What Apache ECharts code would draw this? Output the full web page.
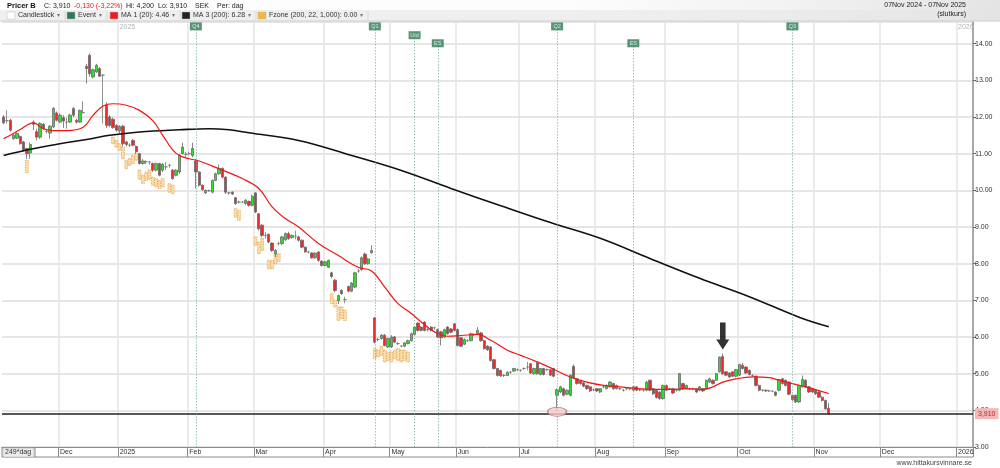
<!DOCTYPE html>
<html>
<head>
<meta charset="utf-8">
<script src="https://cdn.jsdelivr.net/npm/echarts@6/dist/echarts.min.js"></script>
<style>
  html, body { margin: 0; padding: 0; background: #fff; }
  #chart { width: 1000px; height: 468px; }
</style>
</head>
<body>
<div id="chart"></div>
<script>
// handelsdagar: vardagar, helgdagar stängda fram till sista datadagen
const firstDay = '2024-11-07';
const lastDataDay = '2025-11-07';
const lastAxisDay = '2026-01-07';
const holidays = ['2024-12-24', '2024-12-25', '2024-12-26', '2024-12-31', '2025-01-01', '2025-01-06',
    '2025-04-18', '2025-04-21', '2025-05-01', '2025-05-29', '2025-06-06', '2025-06-20'];
const monthNames = ['Jan', 'Feb', 'Mar', 'Apr', 'May', 'Jun', 'Jul', 'Aug', 'Sep', 'Oct', 'Nov', 'Dec'];

// [open, close, low, high] per dag
const candles = [
    [12.0, 11.84, 11.8, 12.05], [11.9, 11.9, 11.82, 12.18], [11.91, 11.64, 11.6, 11.95], [11.41, 11.5, 11.38, 11.55],
    [11.42, 11.55, 11.4, 11.58], [11.47, 11.27, 11.25, 11.5], [11.32, 11.09, 11.05, 11.35], [11.14, 11.0, 10.86, 11.16],
    [11.02, 11.25, 10.86, 11.3], [11.86, 11.8, 11.64, 11.91], [11.6, 11.45, 11.36, 11.68], [11.45, 11.82, 11.4, 11.86],
    [11.8, 11.68, 11.65, 11.84], [11.6, 11.6, 11.55, 11.65], [11.56, 11.75, 11.41, 11.78], [11.73, 12.23, 11.7, 12.27],
    [12.11, 11.91, 11.88, 12.15], [11.86, 12.05, 11.84, 12.1], [11.98, 11.89, 11.7, 12.05], [11.86, 11.86, 11.68, 11.98],
    [11.86, 12.05, 11.84, 12.09], [12.23, 12.05, 12.0, 12.27], [11.91, 11.86, 11.82, 11.95], [11.86, 12.18, 11.84, 12.2],
    [12.12, 12.12, 12.09, 12.43], [13.38, 13.32, 12.91, 13.45], [13.68, 13.18, 13.1, 13.73], [13.09, 13.29, 13.05, 13.32],
    [13.23, 13.41, 13.2, 13.45], [13.32, 13.11, 13.09, 13.36], [13.14, 13.14, 11.82, 13.16], [12.32, 11.77, 11.7, 12.4],
    [12.0, 11.77, 11.72, 12.05], [11.94, 11.71, 11.68, 11.98], [11.77, 11.64, 11.6, 11.8], [11.62, 11.74, 11.55, 11.78],
    [11.75, 11.27, 11.2, 11.78], [11.32, 11.25, 11.2, 11.35], [11.23, 11.23, 11.18, 11.28], [11.36, 11.23, 11.2, 11.4],
    [11.2, 11.05, 11.0, 11.22], [11.0, 10.73, 10.7, 11.02], [10.73, 10.8, 10.7, 10.85], [10.78, 10.78, 10.72, 10.82],
    [10.77, 10.77, 10.7, 10.8], [10.73, 10.55, 10.5, 10.76], [10.55, 10.73, 10.52, 10.76], [10.73, 10.41, 10.38, 10.75],
    [10.55, 10.71, 10.5, 10.75], [10.64, 10.64, 10.55, 10.77], [10.68, 10.68, 10.62, 10.72], [10.55, 10.32, 10.28, 10.58],
    [10.41, 10.55, 10.38, 10.58], [10.5, 10.95, 10.45, 11.0], [11.0, 11.18, 10.98, 11.3], [10.98, 10.98, 10.9, 11.05],
    [11.0, 11.0, 10.95, 11.05], [10.95, 11.14, 10.9, 11.3], [10.8, 10.5, 10.05, 10.85], [10.5, 10.14, 10.1, 10.52],
    [10.14, 10.02, 9.98, 10.16], [9.93, 10.0, 9.9, 10.02], [9.99, 9.99, 9.96, 10.02], [9.95, 10.27, 9.92, 10.3],
    [10.27, 10.45, 10.25, 10.48], [10.45, 10.6, 10.42, 10.7], [10.6, 10.36, 10.32, 10.62], [10.36, 9.95, 9.9, 10.38],
    [9.93, 9.93, 9.88, 9.96], [9.95, 9.9, 9.87, 9.97], [9.8, 9.64, 9.6, 9.82], [9.68, 9.68, 9.64, 9.72],
    [9.68, 9.68, 9.65, 9.7], [9.64, 9.73, 9.6, 9.76], [9.7, 9.59, 9.55, 9.72], [9.59, 9.84, 9.56, 9.88],
    [9.93, 9.41, 9.38, 9.95], [9.36, 8.95, 8.9, 9.38], [9.05, 8.77, 8.72, 9.08], [8.77, 8.77, 8.68, 8.86],
    [8.8, 8.59, 8.56, 8.82], [8.56, 8.36, 8.32, 8.58], [8.27, 8.36, 8.18, 8.4], [8.55, 8.55, 8.5, 8.6],
    [8.55, 8.73, 8.5, 8.76], [8.65, 8.82, 8.62, 8.85], [8.82, 8.68, 8.65, 8.87], [8.71, 8.77, 8.68, 8.8],
    [8.75, 8.75, 8.66, 8.9], [8.73, 8.64, 8.6, 8.76], [8.64, 8.45, 8.42, 8.66], [8.45, 8.32, 8.3, 8.47],
    [8.32, 8.32, 8.28, 8.35], [8.29, 8.16, 8.13, 8.31], [8.16, 8.29, 8.13, 8.31], [8.32, 8.09, 8.05, 8.34],
    [8.07, 7.95, 7.92, 8.09], [7.95, 8.05, 7.93, 8.07], [7.9, 8.09, 7.88, 8.11], [7.75, 7.65, 7.6, 7.78],
    [7.55, 7.27, 7.22, 7.58], [6.99, 7.13, 6.9, 7.16], [7.27, 7.18, 7.15, 7.3], [7.02, 7.02, 6.92, 7.1],
    [7.38, 7.25, 7.22, 7.4], [7.25, 7.47, 7.22, 7.5], [7.36, 7.75, 7.33, 7.78], [7.8, 7.8, 7.75, 7.86],
    [7.84, 8.16, 7.8, 8.2], [8.26, 8.0, 7.96, 8.3], [8.0, 8.13, 7.97, 8.16], [8.3, 8.36, 8.27, 8.5],
    [6.52, 5.86, 5.82, 6.55], [5.93, 5.93, 5.88, 5.98], [5.96, 6.05, 5.93, 6.08], [6.05, 5.77, 5.74, 6.08],
    [5.73, 5.96, 5.7, 5.98], [5.73, 6.0, 5.7, 6.05], [6.0, 5.86, 5.83, 6.03], [5.82, 5.82, 5.78, 5.86],
    [5.75, 5.75, 5.72, 5.78], [5.75, 5.84, 5.72, 5.86], [5.82, 5.9, 5.8, 5.93], [5.9, 6.09, 5.88, 6.12],
    [6.07, 6.27, 6.05, 6.3], [6.38, 6.18, 6.15, 6.4], [6.27, 6.18, 6.15, 6.3], [6.41, 6.18, 6.15, 6.43],
    [6.2, 6.2, 6.15, 6.25], [6.27, 6.18, 6.15, 6.3], [6.25, 6.25, 6.2, 6.28], [6.2, 6.0, 5.97, 6.23],
    [6.14, 5.98, 5.77, 6.17], [6.0, 6.2, 5.97, 6.23], [6.27, 6.09, 6.06, 6.3], [6.22, 6.13, 6.1, 6.25],
    [6.36, 6.18, 6.15, 6.38], [6.2, 5.77, 5.74, 6.23], [5.98, 5.75, 5.72, 6.0], [5.8, 5.93, 5.78, 5.96],
    [5.9, 5.9, 5.86, 5.94], [5.9, 6.09, 5.88, 6.12], [6.07, 6.07, 6.03, 6.1], [6.09, 6.18, 6.06, 6.27],
    [6.11, 5.9, 5.87, 6.14], [5.9, 5.68, 5.65, 5.93], [5.75, 5.65, 5.62, 5.78], [5.73, 5.36, 5.33, 5.75],
    [5.38, 5.14, 5.11, 5.4], [5.14, 4.95, 4.92, 5.16], [5.09, 4.94, 4.91, 5.11], [4.95, 4.95, 4.91, 4.99],
    [4.95, 5.04, 4.93, 5.06], [5.04, 5.04, 5.0, 5.07], [5.07, 5.14, 5.05, 5.16], [5.11, 5.11, 5.07, 5.14],
    [5.09, 5.09, 5.05, 5.12], [5.14, 5.14, 5.1, 5.17], [5.18, 5.18, 5.09, 5.32], [5.27, 5.02, 4.99, 5.29],
    [5.0, 5.14, 4.97, 5.16], [5.29, 5.0, 4.97, 5.31], [4.98, 5.14, 4.95, 5.16], [5.14, 4.98, 4.95, 5.16],
    [5.11, 5.11, 5.07, 5.14], [5.11, 4.96, 4.93, 5.13], [5.14, 4.93, 4.9, 5.16], [4.41, 4.56, 3.97, 4.6],
    [4.5, 4.64, 4.47, 4.67], [4.59, 4.41, 4.38, 4.62], [4.44, 4.55, 4.41, 4.57], [4.41, 4.96, 4.38, 4.98],
    [5.2, 4.88, 4.85, 5.25], [4.86, 4.73, 4.7, 4.88], [4.8, 4.73, 4.7, 4.82], [4.75, 4.66, 4.63, 4.77],
    [4.68, 4.59, 4.56, 4.7], [4.64, 4.53, 4.5, 4.66], [4.56, 4.56, 4.52, 4.6], [4.59, 4.53, 4.5, 4.61],
    [4.5, 4.59, 4.47, 4.61], [4.64, 4.64, 4.6, 4.67], [4.59, 4.68, 4.57, 4.7], [4.64, 4.77, 4.62, 4.8],
    [4.73, 4.59, 4.56, 4.75], [4.59, 4.68, 4.57, 4.7], [4.59, 4.59, 4.55, 4.62], [4.55, 4.55, 4.51, 4.58],
    [4.59, 4.59, 4.55, 4.62], [4.59, 4.59, 4.55, 4.62], [4.55, 4.64, 4.52, 4.66], [4.64, 4.55, 4.52, 4.66],
    [4.56, 4.56, 4.52, 4.6], [4.55, 4.55, 4.51, 4.58], [4.55, 4.77, 4.52, 4.8], [4.82, 4.55, 4.52, 4.84],
    [4.59, 4.45, 4.42, 4.61], [4.55, 4.35, 4.32, 4.57], [4.5, 4.32, 4.29, 4.52], [4.32, 4.68, 4.29, 4.7],
    [4.68, 4.55, 4.52, 4.7], [4.59, 4.59, 4.55, 4.62], [4.59, 4.47, 4.44, 4.61], [4.55, 4.55, 4.51, 4.58],
    [4.55, 5.0, 4.52, 5.02], [4.73, 4.59, 4.56, 4.75], [4.59, 4.68, 4.57, 4.7], [4.59, 4.59, 4.55, 4.62],
    [4.59, 4.59, 4.55, 4.62], [4.59, 4.5, 4.47, 4.61], [4.55, 4.64, 4.52, 4.66], [4.59, 4.53, 4.5, 4.61],
    [4.59, 4.82, 4.57, 4.84], [4.77, 4.86, 4.75, 4.89], [4.82, 4.73, 4.7, 4.84], [4.82, 5.0, 4.8, 5.02],
    [5.05, 5.45, 5.03, 5.47], [5.47, 5.0, 4.97, 5.55], [5.05, 4.96, 4.93, 5.07], [5.02, 4.91, 4.88, 5.04],
    [5.05, 4.93, 4.9, 5.07], [4.93, 5.11, 4.9, 5.13], [4.96, 5.25, 4.93, 5.27], [5.23, 5.14, 5.11, 5.29],
    [5.18, 5.02, 4.99, 5.2], [5.09, 4.98, 4.95, 5.11], [4.95, 4.95, 4.91, 4.99], [4.93, 4.68, 4.65, 4.95],
    [4.68, 4.55, 4.52, 4.7], [4.55, 4.55, 4.51, 4.58], [4.55, 4.53, 4.5, 4.57], [4.53, 4.53, 4.5, 4.56],
    [4.52, 4.52, 4.49, 4.55], [4.5, 4.41, 4.38, 4.52], [4.55, 4.84, 4.52, 4.86], [4.86, 4.73, 4.7, 4.88],
    [4.82, 4.68, 4.65, 4.84], [4.77, 4.44, 4.41, 4.79], [4.41, 4.29, 4.26, 4.43], [4.41, 4.23, 4.2, 4.43],
    [4.23, 4.68, 4.2, 4.7], [4.64, 4.84, 4.62, 4.95], [4.82, 4.64, 4.61, 4.84], [4.64, 4.5, 4.47, 4.66],
    [4.59, 4.5, 4.47, 4.61], [4.55, 4.45, 4.42, 4.57], [4.5, 4.36, 4.33, 4.52], [4.36, 4.27, 4.24, 4.38],
    [4.27, 4.04, 4.01, 4.29], [4.06, 3.91, 3.91, 4.2]
];

// glidande medel, avlästa punkter [dagindex, värde]
const ma20Points = [
    [0, 11.41], [2, 11.5], [5, 11.66], [9, 11.84], [12, 11.68], [15, 11.63], [19, 11.63], [24, 11.72],
    [27, 12.05], [30, 12.3], [33, 12.36], [37, 12.32], [41, 12.18], [45, 11.9], [48, 11.5], [51, 11.1],
    [53, 10.95], [56, 10.86], [59, 10.8], [63, 10.66], [66, 10.55], [72, 10.32], [77, 10.05], [81, 9.55],
    [85, 9.23], [89, 9.0], [95, 8.55], [101, 8.22], [107, 7.9], [111, 7.8], [115, 7.36], [119, 6.91],
    [123, 6.64], [126, 6.41], [130, 6.14], [134, 6.02], [138, 6.04], [143, 6.07], [147, 5.91], [152, 5.64],
    [156, 5.5], [161, 5.32], [166, 5.12], [171, 4.91], [176, 4.77], [181, 4.68], [186, 4.64], [191, 4.59],
    [196, 4.57], [201, 4.57], [206, 4.59], [211, 4.57], [214, 4.64], [217, 4.77], [221, 4.86], [226, 4.91],
    [231, 4.89], [234, 4.82], [238, 4.73], [242, 4.64], [249, 4.46]
];
const ma200Points = [
    [0, 10.95], [8, 11.12], [17, 11.27], [26, 11.4], [32, 11.5], [41, 11.59], [53, 11.65], [62, 11.68],
    [68, 11.65], [74, 11.57], [89, 11.36], [105, 10.95], [120, 10.54], [135, 10.05], [150, 9.58], [165, 9.12],
    [180, 8.69], [195, 8.14], [210, 7.6], [225, 7.1], [240, 6.54], [249, 6.28]
];

// Fzone-lådor [dagindex, botten, topp]
const fzone = [
    [7, 10.48, 10.82],
    [33, 11.27, 11.45], [34, 11.18, 11.36], [35, 11.09, 11.27], [36, 10.86, 11.18], [37, 10.59, 10.82],
    [38, 10.68, 10.86], [39, 10.73, 10.95], [40, 10.82, 11.0], [41, 10.3, 10.55], [42, 10.18, 10.41],
    [43, 10.27, 10.5], [44, 10.3, 10.55], [45, 10.14, 10.36], [46, 10.09, 10.32], [47, 10.05, 10.27],
    [48, 10.09, 10.32], [50, 9.95, 10.18], [51, 9.91, 10.14],
    [70, 9.27, 9.5], [71, 9.18, 9.45],
    [76, 8.5, 8.73], [77, 8.27, 8.59], [78, 8.36, 8.68], [80, 7.86, 8.09], [81, 7.86, 8.09], [82, 8.0, 8.27], [83, 8.05, 8.27],
    [99, 6.91, 7.18], [100, 6.82, 7.0], [101, 6.45, 6.82], [102, 6.5, 6.82], [103, 6.45, 6.73],
    [112, 5.41, 5.68], [113, 5.46, 5.64], [114, 5.5, 5.75], [115, 5.32, 5.64], [116, 5.36, 5.59], [117, 5.32, 5.59],
    [118, 5.41, 5.64], [119, 5.36, 5.68], [120, 5.32, 5.64], [121, 5.36, 5.64], [122, 5.32, 5.59]
];

// händelser
const eventNames = ['Q4', 'Q1', 'Utd', 'ES', 'Q2', 'ES', 'Q3'];
const eventDays = [58, 112, 124, 131, 167, 190, 238];
const eventLevels = [14.47, 14.47, 14.23, 14.01, 14.47, 14.01, 14.47];

const lastClose = 3.91;
const arrowPoint = [217, 6.03];
const circlePoint = [167, 3.96];

function buildDays() {
    const out = [];
    const d = new Date(firstDay + 'T00:00:00Z');
    const end = new Date(lastAxisDay + 'T00:00:00Z').getTime();
    while (d.getTime() <= end) {
        const wd = d.getUTCDay();
        const s = d.toISOString().slice(0, 10);
        const closed = s <= lastDataDay && holidays.includes(s);
        if (wd !== 0 && wd !== 6 && !closed) out.push(s);
        d.setUTCDate(d.getUTCDate() + 1);
    }
    return out;
}

const days = buildDays();
const monthStart = days.map((s, k) => k > 0 && s.slice(0, 7) !== days[k - 1].slice(0, 7));
const isMonth = (idx) => monthStart[idx];
const isYear = (idx) => monthStart[idx] && days[idx].slice(5, 7) === '01';

const chart = echarts.init(document.getElementById('chart'));
const FONT = '"Liberation Sans", Arial, sans-serif';

const header = [];
function txt(x, y, s, opt) {
    header.push({
        type: 'text', left: x, top: y, z: 20,
        style: Object.assign({ text: s, fontFamily: FONT, fontSize: 7.5, fill: '#222' }, opt || {})
    });
}
header.push({ type: 'rect', shape: { x: 0, y: 0, width: 1000, height: 21 }, style: { fill: '#fdfdfd' }, z: 10 });
header.push({ type: 'rect', shape: { x: 0, y: 10, width: 1000, height: 11 }, style: { fill: '#efefef' }, z: 10 });
header.push({ type: 'rect', shape: { x: 560, y: 0, width: 440, height: 21 },
    style: { fill: new echarts.graphic.LinearGradient(0, 0, 1, 0, [{ offset: 0, color: 'rgba(235,235,235,0)' }, { offset: 1, color: '#e4e4e4' }]) }, z: 11 });
header.push({ type: 'line', shape: { x1: 0, y1: 21, x2: 1000, y2: 21 }, style: { stroke: '#cfcfcf', lineWidth: 1 }, z: 12 });

// översta raden
txt(7, 2, 'Pricer B', { fontWeight: 'bold', fontSize: 7.5, fill: '#111' });
txt(44, 2.5, 'C: 3,910', { fontSize: 7, fill: '#222' });
txt(74, 2.5, '-0,130 (-3,22%)', { fontSize: 7, fill: '#e02020' });
txt(126, 2.5, 'Hi: 4,200', { fontSize: 7, fill: '#222' });
txt(158, 2.5, 'Lo: 3,910', { fontSize: 7, fill: '#222' });
txt(195, 2.5, 'SEK', { fontSize: 7, fill: '#222' });
txt(217, 2.5, 'Per: dag', { fontSize: 7, fill: '#222' });

const legendItems = [
    { x: 7, color: '#ffffff', label: 'Candlestick', arrow: 57 },
    { x: 67, color: '#2e7a55', label: 'Event', arrow: 99 },
    { x: 110, color: '#ee1c1c', label: 'MA 1 (20): 4.46', arrow: 172 },
    { x: 182, color: '#222222', label: 'MA 3 (200): 6.28', arrow: 248 },
    { x: 258, color: '#f6b73c', label: 'Fzone (200, 22, 1,000): 0.00', arrow: 360 }
];
legendItems.forEach((it) => {
    header.push({ type: 'rect', shape: { x: it.x, y: 12, width: 8, height: 7 }, style: { fill: it.color, stroke: '#bbb', lineWidth: 0.5 }, z: 20 });
    txt(it.x + 11, 12, it.label, { fontSize: 7, fill: '#333' });
    txt(it.arrow, 12, '▾', { fontSize: 6, fill: '#777' });
    header.push({ type: 'line', shape: { x1: it.arrow + 8, y1: 11, x2: it.arrow + 8, y2: 20 }, style: { stroke: '#d8d8d8' }, z: 20 });
});
header.push({ type: 'text', right: 34, top: 2, z: 20, style: { text: '07Nov 2024 - 07Nov 2025', fontFamily: FONT, fontSize: 7, fill: '#222', align: 'right' } });
header.push({ type: 'text', right: 34, top: 11, z: 20, style: { text: '(slutkurs)', fontFamily: FONT, fontSize: 7, fill: '#222', align: 'right' } });

// nedre etikettrad
header.push({ type: 'line', shape: { x1: 2, y1: 457, x2: 973, y2: 457 }, style: { stroke: '#8a8a8a', lineWidth: 1 }, z: 20 });
header.push({ type: 'line', shape: { x1: 2, y1: 447, x2: 2, y2: 457 }, style: { stroke: '#8a8a8a', lineWidth: 1 }, z: 20 });
header.push({ type: 'rect', shape: { x: 3, y: 448, width: 31, height: 9 }, style: { fill: '#ececec', stroke: '#aaa', lineWidth: 0.5 }, z: 20 });
header.push({ type: 'line', shape: { x1: 35, y1: 447, x2: 35, y2: 457 }, style: { stroke: '#8a8a8a', lineWidth: 1 }, z: 20 });
txt(5, 448.5, '249*dag', { fontSize: 7, fill: '#333' });
header.push({ type: 'text', right: 28, top: 460, z: 20, style: { text: 'www.hittakursvinnare.se', fontFamily: FONT, fontSize: 7, fill: '#444', align: 'right' } });

const option = {
    animation: false,
    backgroundColor: '#ffffff',
    textStyle: { fontFamily: FONT },
    grid: { left: 2, right: 27, top: 22, bottom: 21 },
    xAxis: [
        {
            type: 'category',
            data: days,
            boundaryGap: true,
            axisLine: { show: true, lineStyle: { color: '#8a8a8a', width: 1 } },
            axisTick: { show: true, interval: isMonth, length: 10, lineStyle: { color: '#8a8a8a' } },
            axisLabel: {
                interval: isMonth,
                align: 'left',
                margin: 2,
                fontSize: 7,
                color: '#333',
                formatter: (v) => {
                    const m = +v.slice(5, 7);
                    return m === 1 ? v.slice(0, 4) : monthNames[m - 1];
                }
            },
            splitLine: { show: true, interval: isMonth, lineStyle: { color: '#e4e4e4', width: 1.5 } }
        },
        {
            type: 'category',
            data: days,
            position: 'top',
            boundaryGap: true,
            axisLine: { show: false },
            axisTick: { show: false },
            splitLine: { show: false },
            axisLabel: {
                inside: true,
                interval: isYear,
                align: 'left',
                margin: 2,
                fontSize: 7,
                color: '#b4b4b4',
                formatter: (v) => v.slice(0, 4)
            }
        }
    ],
    yAxis: {
        type: 'value',
        position: 'right',
        min: 3,
        max: 14.59,
        interval: 1,
        axisLine: { show: true, lineStyle: { color: '#a8a8a8', width: 2 } },
        axisTick: { show: true, length: 3, lineStyle: { color: '#666' } },
        axisLabel: { fontSize: 7, color: '#333', margin: 2, showMaxLabel: false, formatter: (v) => v.toFixed(2) },
        splitLine: { show: true, lineStyle: { color: '#dedede', width: 1.5 } }
    },
    graphic: header,
    series: [
        {
            name: 'Fzone',
            type: 'custom',
            data: fzone,
            encode: { x: 0, y: [1, 2] },
            z: 2,
            renderItem: function (params, api) {
                const top = api.coord([api.value(0), api.value(2)]);
                const bot = api.coord([api.value(0), api.value(1)]);
                const w = api.size([1, 0])[0] * 0.85;
                return {
                    type: 'rect',
                    shape: { x: top[0] - w / 2, y: top[1], width: w, height: bot[1] - top[1] },
                    style: { fill: '#fcdfae', stroke: '#e2a24c', lineWidth: 0.8, lineDash: [1.5, 1] }
                };
            }
        },
        {
            name: 'Candlestick',
            type: 'candlestick',
            data: candles,
            barWidth: '85%',
            z: 3,
            itemStyle: {
                color: '#2ae02a',
                color0: '#f02828',
                borderColor: '#6a6a6a',
                borderColor0: '#6a6a6a',
                borderColorDoji: '#777',
                borderWidth: 0.8
            },
            markLine: {
                symbol: ['none', 'none'],
                silent: true,
                lineStyle: { color: '#222', width: 1.5, type: 'solid' },
                label: {
                    show: true,
                    position: 'end',
                    distance: 2,
                    formatter: '3,910',
                    fontSize: 7,
                    color: '#a03030',
                    backgroundColor: '#f5b8b8',
                    padding: [2, 3]
                },
                data: [{ yAxis: lastClose }]
            }
        },
        {
            name: 'MA 3 (200)',
            type: 'line',
            data: ma200Points,
            smooth: 0.4,
            showSymbol: false,
            connectNulls: true,
            z: 4,
            lineStyle: { color: '#111', width: 1.6 }
        },
        {
            name: 'MA 1 (20)',
            type: 'line',
            data: ma20Points,
            smooth: 0.4,
            showSymbol: false,
            connectNulls: true,
            z: 4,
            lineStyle: { color: '#f01515', width: 1.2 }
        },
        {
            name: 'Event',
            type: 'scatter',
            data: eventDays.map((d, k) => ({ value: [d, eventLevels[k]], name: eventNames[k] })),
            symbol: 'rect',
            symbolSize: [12, 8],
            z: 6,
            itemStyle: { color: '#2e7a55' },
            label: { show: true, position: 'inside', formatter: '{b}', color: '#fff', fontSize: 5.5 },
            markLine: {
                symbol: ['none', 'none'],
                silent: true,
                label: { show: false },
                lineStyle: { color: '#6fa596', width: 1, type: [1, 2] },
                data: eventDays.map((d, k) => [{ coord: [d, eventLevels[k]] }, { coord: [d, 3] }])
            }
        },
        {
            name: 'arrow',
            type: 'scatter',
            data: [arrowPoint],
            symbol: 'path://M4,0 L10,0 L10,17 L14,17 L7,27 L0,17 L4,17 Z',
            symbolSize: [13, 27],
            z: 7,
            itemStyle: { color: '#000' }
        },
        {
            name: 'circle',
            type: 'scatter',
            data: [circlePoint],
            symbol: 'circle',
            symbolSize: [19, 9],
            z: 7,
            itemStyle: { color: '#f6caca', borderColor: '#b07070', borderWidth: 1 }
        }
    ]
};

chart.setOption(option);
</script>
</body>
</html>
